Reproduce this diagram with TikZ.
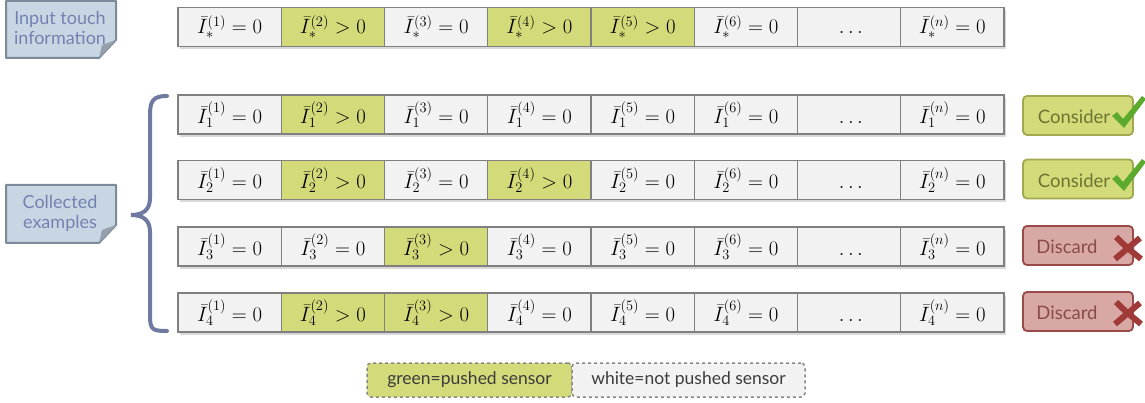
\documentclass[tikz,border=0pt]{standalone}
\usepackage{fontspec}
\setmainfont{Lato}
\usetikzlibrary{shadows}
\definecolor{cellgray}{RGB}{242,242,242}
\definecolor{cellgreen}{RGB}{211,218,122}
\definecolor{cellline}{RGB}{128,128,128}
\definecolor{notefill}{RGB}{200,214,228}
\definecolor{noteline}{RGB}{124,138,156}
\definecolor{notetext}{RGB}{118,128,176}
\definecolor{notefold}{RGB}{150,160,172}
\definecolor{bracecol}{RGB}{110,122,160}
\definecolor{consfill}{RGB}{211,218,122}
\definecolor{consline}{RGB}{160,168,80}
\definecolor{constext}{RGB}{108,116,48}
\definecolor{checkcol}{RGB}{91,170,46}
\definecolor{discfill}{RGB}{216,168,164}
\definecolor{discline}{RGB}{154,74,72}
\definecolor{disctext}{RGB}{138,74,72}
\definecolor{crosscol}{RGB}{160,58,56}
\definecolor{legline}{RGB}{136,136,136}
\definecolor{legtext}{RGB}{60,60,60}
\begin{document}
\begin{tikzpicture}[x=1pt,y=-1pt,
  cell/.style={draw=cellline, line width=1.2pt, minimum width=103.25pt, minimum height=39pt, inner sep=0pt, font=\fontsize{21}{23}\selectfont},
  rowshadow/.style={fill=cellgray, drop shadow={shadow xshift=2pt, shadow yshift=-3pt, opacity=0.3}},
  notebox/.style={fill=notefill, draw=noteline, line width=2pt, line join=round},
  notelabel/.style={text=notetext, font=\fontsize{18}{20}\selectfont, align=center, inner sep=0pt},
  bracestyle/.style={draw=bracecol, line width=4pt, line cap=round},
  consbox/.style={fill=consfill, draw=consline, line width=1.8pt, rounded corners=4pt, minimum width=110pt, minimum height=39pt},
  discbox/.style={fill=discfill, draw=discline, line width=1.8pt, rounded corners=4pt, minimum width=110pt, minimum height=39pt},
  verdict/.style={font=\fontsize{18.5}{20}\selectfont, inner sep=0pt},
  legbox/.style={draw=legline, dashed, line width=1.5pt, minimum height=34pt, inner sep=0pt, text=legtext, font=\fontsize{17.5}{19}\selectfont},
]
\useasboundingbox (0,0) rectangle (1145,403);

% rows of cells
\foreach \r/\y/\s/\cols in {
  0/27/*/{1/0,2/1,3/0,4/1,5/1,6/0,7/0,8/0},
  1/114.5/1/{1/0,2/1,3/0,4/0,5/0,6/0,7/0,8/0},
  2/180/2/{1/0,2/1,3/0,4/1,5/0,6/0,7/0,8/0},
  3/246.5/3/{1/0,2/0,3/1,4/0,5/0,6/0,7/0,8/0},
  4/312.5/4/{1/0,2/1,3/1,4/0,5/0,6/0,7/0,8/0}}{
  \fill[rowshadow] (178,\y-19.5) rectangle (1004,\y+19.5);
  \foreach \c/\g in \cols {
    \ifnum\g=1 \def\fc{cellgreen}\def\rel{>}\else\def\fc{cellgray}\def\rel{=}\fi
    \ifnum\c=8 \def\idx{n}\else\let\idx\c\fi
    \ifnum\c=7
      \node[cell, fill=\fc] (r\r c\c) at ({178+51.625+(\c-1)*103.25},\y) {$\vphantom{\bar{I}_{\s}^{(1)}}\ldots$};
    \else
      \node[cell, fill=\fc] (r\r c\c) at ({178+51.625+(\c-1)*103.25},\y) {$\bar{I}_{\s}^{(\idx)}\rel 0$};
    \fi
  }
}

% note: input touch information
\path[notebox] (6,1) -- (116,1) -- (116,40) -- (99,58) -- (6,58) -- cycle;
\fill[notefold] (116,40) -- (102,45) -- (99,58) -- cycle;
\node[notelabel] (inputnote) at (60,28) {Input touch\\information};

% note: collected examples
\path[notebox] (6,185) -- (116,185) -- (116,225) -- (99,243) -- (6,243) -- cycle;
\fill[notefold] (116,225) -- (102,230) -- (99,243) -- cycle;
\node[notelabel] (collnote) at (60,213) {Collected\\examples};

% brace
\path[bracestyle] (167,96) .. controls (153,96) and (150,101) .. (150,115) -- (150,198)
  .. controls (150,210) and (143,215) .. (131,215)
  .. controls (143,215) and (150,220) .. (150,232) -- (150,316)
  .. controls (150,330) and (153,331) .. (167,331);

% verdicts
\node[consbox] (v1) at (1078,115.5) {};
\node[verdict, text=constext] (v1t) at (1074,117) {Consider};
\node[consbox] (v2) at (1078,179) {};
\node[verdict, text=constext] (v2t) at (1074,181) {Consider};
\node[discbox] (v3) at (1078,245.5) {};
\node[verdict, text=disctext] (v3t) at (1067,247) {Discard};
\node[discbox] (v4) at (1078,311.5) {};
\node[verdict, text=disctext] (v4t) at (1067,313) {Discard};

% check marks
\foreach \yy in {95,158}{
  \fill[checkcol] (1112,\yy+21) -- (1117,\yy+17) -- (1123,\yy+24) -- (1142,\yy+1) -- (1146,\yy+4) -- (1124,\yy+33) -- cycle;
}
% crosses
\foreach \yy in {248,313}{
  \draw[crosscol, line width=6pt] (1116,\yy-11) .. controls (1124,\yy-3) .. (1141,\yy+11);
  \draw[crosscol, line width=6pt] (1115,\yy+11) .. controls (1128,\yy) .. (1140,\yy-10);
}

% legend
\node[legbox, fill=cellgreen, minimum width=205pt, rounded corners=4pt] (leggreen) at (469.5,380) {green=pushed sensor};
\node[legbox, fill=cellgray, minimum width=233pt, rounded corners=4pt] (legwhite) at (688.5,380) {white=not pushed sensor};
\end{tikzpicture}
\end{document}
